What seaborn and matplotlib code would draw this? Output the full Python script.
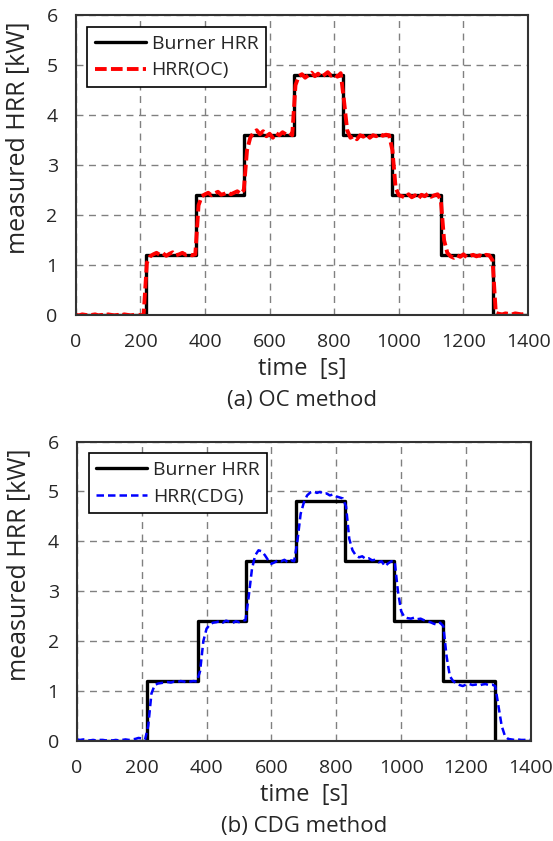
import numpy as np
import pandas as pd
import matplotlib
matplotlib.use('Agg')
import matplotlib.pyplot as plt
import seaborn as sns

# burner step programme
step_t = [0, 217, 372, 520, 675, 826, 978, 1130, 1290, 1400]
step_hrr = [0, 1.2, 2.4, 3.6, 4.8, 3.6, 2.4, 1.2, 0, 0]

# measured curves, read every 10 s
time = list(range(0, 1401, 10))
hrr_oc = [
    0.01, 0.0, 0.02, 0.01, 0.0, 0.01, 0.02, 0.0, 0.01, 0.0, 0.02, 0.01, 0.0, 0.01, 0.0, 0.02, 0.01, 0.0, 0.01, 0.02, 0.0, 0.01,
    1.05,
    1.18, 1.22, 1.25, 1.21, 1.24, 1.19, 1.23, 1.26, 1.2, 1.22, 1.25, 1.21, 1.23, 1.2,
    1.22, 2.2, 2.38,
    2.42, 2.45, 2.4, 2.44, 2.47, 2.41, 2.43, 2.46, 2.42, 2.45, 2.48, 2.43,
    2.5, 3.3, 3.55,
    3.65, 3.7, 3.62, 3.68, 3.58, 3.63, 3.55, 3.64, 3.6, 3.66, 3.62, 3.65, 3.6,
    4.6, 4.78,
    4.82, 4.75, 4.8, 4.85, 4.78, 4.83, 4.76, 4.81, 4.86, 4.79, 4.82, 4.77, 4.84,
    4.3, 3.7,
    3.55, 3.58, 3.52, 3.6, 3.57, 3.62, 3.55, 3.6, 3.58, 3.63, 3.59, 3.61, 3.6,
    3.3, 2.55, 2.4,
    2.38, 2.35, 2.42, 2.36, 2.4, 2.33, 2.41, 2.38, 2.43, 2.37, 2.4, 2.42,
    2.3, 1.5, 1.25,
    1.18, 1.15, 1.2, 1.17, 1.22, 1.16, 1.19, 1.21, 1.18, 1.2, 1.17, 1.21, 1.2,
    1.1, 0.05,
    0.03, 0.02, 0.04, 0.03, 0.02, 0.04, 0.03, 0.02, 0.03, 0.02,
]
hrr_cdg = [
    0.03, 0.02, 0.03, 0.02, 0.01, 0.02, 0.01, 0.02, 0.02, 0.01, 0.02, 0.01, 0.02, 0.01, 0.02, 0.03, 0.02, 0.03, 0.04,
    0.06, 0.05, 0.02, 0.3, 0.95, 1.12, 1.15,
    1.16, 1.17, 1.18, 1.17, 1.19, 1.18, 1.2, 1.19, 1.17, 1.19, 1.2, 1.19,
    1.4, 2.0, 2.25, 2.33, 2.37,
    2.38, 2.4, 2.37, 2.41, 2.39, 2.36, 2.4, 2.38, 2.41, 2.42,
    2.9, 3.45, 3.72, 3.82, 3.8, 3.72, 3.62, 3.55, 3.58, 3.62,
    3.6, 3.63, 3.58, 3.62, 3.6,
    4.0, 4.55, 4.78, 4.92, 4.98,
    5.0, 4.97, 4.99, 4.95, 4.96, 4.92, 4.94, 4.9, 4.88, 4.86,
    4.7, 4.05, 3.82, 3.72, 3.68,
    3.7, 3.65, 3.66, 3.62, 3.63, 3.58, 3.6, 3.5, 3.56, 3.6,
    3.6, 3.0, 2.6, 2.48,
    2.46, 2.45, 2.47, 2.44, 2.45, 2.42, 2.4, 2.38, 2.35, 2.33, 2.37,
    2.3, 1.7, 1.3, 1.2,
    1.15, 1.12, 1.1, 1.13, 1.14, 1.12, 1.13, 1.11, 1.13, 1.14, 1.12, 1.13,
    1.1, 0.7, 0.3, 0.1,
    0.04, 0.03, 0.02, 0.03, 0.02, 0.02, 0.03, 0.02,
]

sns.set_style('white')
plt.rcParams['font.family'] = ['Open Sans', 'DejaVu Sans']

fig = plt.figure(figsize=(5.53, 8.41), dpi=100)
ax1 = fig.add_axes([0.137, 0.625, 0.818, 0.357])
ax2 = fig.add_axes([0.139, 0.119, 0.821, 0.356])

panels = [
    (ax1, hrr_oc, 'HRR(OC)', 'red', 2.8, (3, 1.1), '(a) OC method'),
    (ax2, hrr_cdg, 'HRR(CDG)', 'blue', 1.8, (3, 1.6), '(b) CDG method'),
]

for ax, meas, lab, col, lw, dash, cap in panels:
    sns.lineplot(x=step_t, y=step_hrr, ax=ax, color='black', linewidth=2.4,
                 drawstyle='steps-post', label='Burner HRR', sort=False)
    sns.lineplot(x=time, y=meas, ax=ax, color=col, linewidth=lw,
                 linestyle=(0, dash), label=lab, sort=False)
    ax.set_xlim(0, 1400)
    ax.set_ylim(0, 6)
    ax.set_xticks(range(0, 1401, 200))
    ax.set_yticks(range(0, 7))
    ax.grid(True, color='#808080', linestyle=(0, (5, 4)), linewidth=1.0)
    ax.tick_params(length=0, labelsize=14, pad=13)
    for s in ax.spines.values():
        s.set_color('#333333')
        s.set_linewidth(1.5)
    ax.set_ylabel('measured HRR [kW]', fontsize=18)
    ax.yaxis.set_label_coords(-0.10, 0.59)
    ax.set_xlabel('time  [s]', fontsize=17)
    ax.xaxis.set_label_coords(0.5, -0.14)
    leg = ax.legend(loc='upper left', fontsize=14, handlelength=2.6,
                    fancybox=False, framealpha=1, edgecolor='black',
                    borderaxespad=0.6, handletextpad=0.3, labelspacing=0.45)
    leg.get_frame().set_linewidth(1.2)
    ax.text(0.5, -0.285, cap, transform=ax.transAxes, ha='center', va='center', fontsize=16)

fig.savefig('out.png', dpi=100)
